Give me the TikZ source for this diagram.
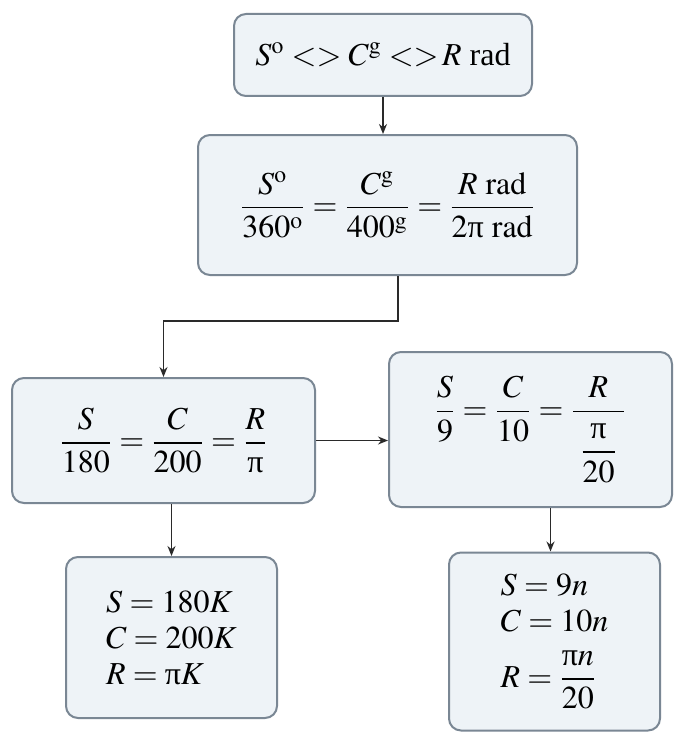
\documentclass[tikz,border=0pt]{standalone}
\usepackage{mathptmx}
\usepackage{amsmath}
\usepackage{fontspec}
\setmainfont{Liberation Serif}
\usetikzlibrary{arrows.meta,calc}
\newcommand{\uppival}{\text{π}}
\definecolor{boxfill}{HTML}{EEF3F7}
\definecolor{boxline}{HTML}{7A8794}
\definecolor{conn}{HTML}{2A2A2A}
\tikzset{
  mybox/.style={draw=boxline, fill=boxfill, line width=1pt, rounded corners=6pt,
    inner sep=0pt, align=center, font=\fontsize{16}{19}\selectfont},
  conline/.style={draw=conn, line width=0.9pt},
  conarrow/.style={conline, -{Stealth[length=5pt,width=4pt]}}
}
\begin{document}
\begin{tikzpicture}[x=0.5pt,y=-0.5pt]
\useasboundingbox (0,0) rectangle (683,733);
\fill[white] (0,0) rectangle (683,733);
\node[mybox, minimum width=149pt, minimum height=41pt] (b1) at (383,55)
  {$S^{\mathrm{o}}<>C^{\mathrm{g}}<>\!R$ rad};
\node[mybox, minimum width=189.5pt, minimum height=70pt] (b2) at (387.5,205)
  {$\dfrac{S^{\mathrm{o}}}{360^{\mathrm{o}}}=\dfrac{C^{\mathrm{g}}}{400^{\mathrm{g}}}=\dfrac{R\ \mathrm{rad}}{2\uppival\ \mathrm{rad}}$};
\node[mybox, minimum width=151.5pt, minimum height=62.5pt] (b3) at (163.5,440.5)
  {$\dfrac{S}{180}=\dfrac{C}{200}=\dfrac{R}{\uppival}$};
\node[mybox, minimum width=141.5pt, minimum height=77.5pt] (b4) at (530.5,429.5)
  {\raisebox{8pt}{$\dfrac{S}{9}=\dfrac{C}{10}=\dfrac{R}{\rule{0pt}{22pt}\;\dfrac{\uppival}{20}\;}$}};
\node[mybox, minimum width=105.5pt, minimum height=80.5pt, align=left] (b5) at (171.5,637.5)
  {$S=180K$\\[-1pt]$C=200K$\\[-1pt]$R=\uppival K$};
\node[mybox, minimum width=105.5pt, minimum height=89pt, align=left] (b6) at (554.5,641.5)
  {$S=9n$\\[-1pt]$C=10n$\\[9pt]$R=\dfrac{\uppival n}{20}$};
\draw[conarrow] (b1.south) -- (b1.south |- b2.north);
\draw[conarrow] ($(b2.south)+(10.5,0)$) -- ++(0,45) -| (b3.north);
\draw[conarrow] (b3.east) -- (b3.east -| b4.west);
\draw[conarrow] (b5.north |- b3.south) -- (b5.north);
\coordinate (b6top) at ($(b6.north)+(-4,0)$);
\draw[conarrow] (b6top |- b4.south) -- (b6top);
\end{tikzpicture}
\end{document}
